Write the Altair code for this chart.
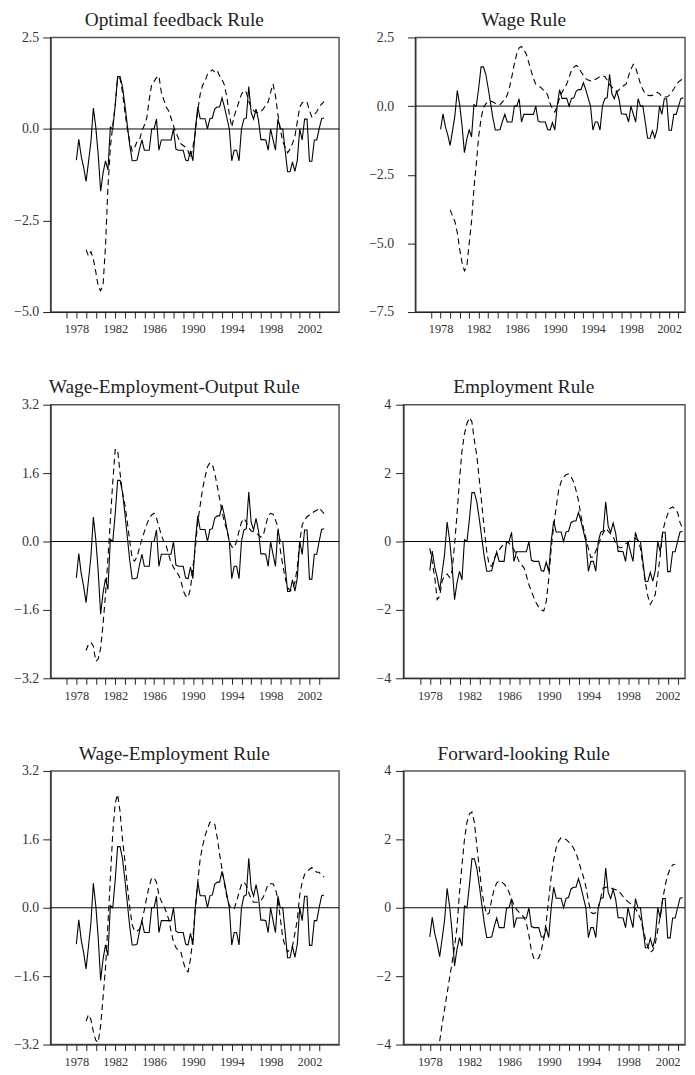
import altair as alt
import pandas as pd

# quarterly observations, 1978Q1 .. 2003Q3
quarters = [1978 + i / 4 for i in range(103)]

actual = [
    -0.85, -0.28, -0.75, -1.05, -1.43, -0.9, -0.35, 0.57, 0.05, -0.7,
    -1.7, -1.2, -0.87, -1.12, 0.05, 0.0, 0.65, 1.43, 1.43, 1.15,
    0.65, 0.1, -0.45, -0.87, -0.87, -0.85, -0.55, -0.3, -0.58, -0.58,
    -0.58, 0.0, 0.0, 0.27, -0.58, -0.3, -0.3, -0.3, -0.3, -0.3,
    0.0, -0.55, -0.58, -0.58, -0.58, -0.85, -0.87, -0.6, -0.87, 0.0,
    0.6, 0.28, 0.28, 0.28, 0.0, 0.28, 0.3, 0.55, 0.6, 0.6,
    0.85, 0.6, 0.3, 0.0, -0.87, -0.58, -0.58, -0.87, 0.0, 0.27,
    0.3, 1.16, 0.45, 0.27, 0.54, 0.25, -0.29, -0.29, -0.3, -0.58,
    0.0, -0.3, -0.58, 0.27, 0.0, 0.0, -0.58, -1.17, -1.17, -0.9,
    -1.16, -0.85, 0.0, -0.3, 0.27, 0.27, -0.88, -0.88, -0.3, -0.3,
    0.0, 0.28, 0.3,
]

optimal_rule = [None] * 4 + [
    -3.3, -3.47, -3.35, -3.55, -3.9, -4.3, -4.42, -4.25, -3.2, -1.6,
    -0.5, 0.1, 0.65, 1.4, 1.38, 1.0, 0.45, 0.0, -0.35, -0.6,
    -0.5, -0.35, -0.3, -0.05, 0.1, 0.3, 0.8, 1.2, 1.3, 1.4,
    1.45, 1.0, 0.8, 0.6, 0.5, 0.3, 0.08, -0.1, -0.25, -0.4,
    -0.45, -0.5, -0.6, -0.8, -0.5, -0.1, 0.5, 0.95, 1.2, 1.3,
    1.5, 1.55, 1.62, 1.55, 1.6, 1.45, 1.35, 1.2, 0.85, 0.4,
    0.05, 0.35, 0.55, 0.75, 0.95, 1.05, 1.0, 0.75, 0.6, 0.5,
    0.45, 0.45, 0.47, 0.55, 0.65, 0.74, 1.0, 1.23, 0.91, 0.4,
    0.0, -0.35, -0.5, -0.65, -0.55, -0.4, -0.2, 0.2, 0.6, 0.72,
    0.74, 0.74, 0.5, 0.33, 0.4, 0.47, 0.6, 0.68, 0.75,
]

wage_rule = [None] * 4 + [
    -3.78, -4.0, -4.2, -4.6, -5.2, -5.7, -6.0, -5.85, -5.0, -4.2,
    -3.0, -2.1, -1.1, -0.45, -0.05, 0.08, 0.17, 0.18, 0.15, 0.1,
    0.05, 0.05, 0.15, 0.25, 0.4, 0.7, 1.1, 1.55, 1.9, 2.12,
    2.17, 2.05, 1.9, 1.6, 1.3, 1.0, 0.8, 0.72, 0.69, 0.6,
    0.55, 0.4, 0.1, -0.1, -0.22, 0.0, 0.3, 0.5, 0.65, 0.8,
    1.05, 1.3, 1.42, 1.48, 1.42, 1.25, 1.12, 1.0, 0.95, 0.92,
    0.92, 0.97, 1.02, 1.08, 1.1, 1.08, 0.95, 0.78, 0.69, 0.6,
    0.51, 0.6, 0.69, 0.75, 0.81, 1.1, 1.35, 1.52, 1.4, 1.1,
    0.81, 0.6, 0.45, 0.4, 0.38, 0.39, 0.45, 0.5, 0.45, 0.35,
    0.33, 0.33, 0.38, 0.5, 0.62, 0.78, 0.88, 0.95, 1.0,
]

weo_rule = [None] * 4 + [
    -2.55, -2.4, -2.36, -2.45, -2.8, -2.75, -2.5, -1.93, -1.25, -0.4,
    0.5, 1.4, 2.15, 2.15, 1.6, 1.15, 0.85, 0.45, 0.0, -0.4,
    -0.46, -0.35, -0.15, 0.05, 0.23, 0.4, 0.54, 0.62, 0.66, 0.55,
    0.35, 0.15, 0.0, -0.1, -0.3, -0.5, -0.6, -0.7, -0.77, -0.9,
    -1.15, -1.27, -1.31, -1.1, -0.6, -0.15, 0.45, 0.85, 1.24, 1.5,
    1.75, 1.84, 1.8, 1.6, 1.3, 1.0, 0.7, 0.45, 0.27, 0.0,
    -0.12, -0.15, 0.0, 0.25, 0.45, 0.54, 0.45, 0.32, 0.25, 0.22,
    0.2, 0.15, 0.1, 0.15, 0.38, 0.6, 0.66, 0.64, 0.5, 0.35,
    -0.2, -0.55, -0.85, -1.08, -1.15, -1.12, -0.95, -0.6, 0.0, 0.39,
    0.5, 0.58, 0.62, 0.66, 0.7, 0.73, 0.79, 0.72, 0.65,
]

employment_rule = [
    -0.2, -0.6, -1.05, -1.7, -1.6, -1.15, -1.0, -0.95, -1.05, -0.85,
    -0.1, 0.8, 1.8, 2.65, 3.15, 3.45, 3.62, 3.5, 2.95, 2.5,
    1.8, 1.1, 0.35, -0.3, -0.7, -0.72, -0.5, -0.35, -0.25, -0.15,
    -0.05, 0.0, -0.05, -0.15, -0.24, -0.4, -0.58, -0.68, -0.77, -1.0,
    -1.26, -1.45, -1.64, -1.8, -1.93, -2.0, -2.03, -1.75, -1.1, -0.2,
    0.45, 1.0, 1.5, 1.75, 1.88, 1.95, 1.98, 1.9, 1.75, 1.5,
    1.2, 0.75, 0.4, 0.1, -0.2, -0.47, -0.45, -0.28, -0.1, 0.1,
    0.25, 0.39, 0.3, 0.22, 0.15, -0.05, -0.15, -0.19, -0.15, -0.07,
    -0.03, 0.03, 0.06, 0.09, 0.05, -0.19, -0.7, -1.2, -1.6, -1.84,
    -1.7, -1.55, -1.0, -0.4, 0.3, 0.58, 0.8, 0.97, 1.01, 0.95,
    0.85, 0.55, 0.38,
]

we_rule = [None] * 4 + [
    -2.65, -2.5, -2.62, -2.9, -3.1, -3.15, -2.75, -2.1, -1.4, -0.4,
    0.7, 1.75, 2.45, 2.65, 2.25, 1.6, 1.1, 0.5, 0.0, -0.4,
    -0.55, -0.55, -0.5, -0.3, -0.05, 0.25, 0.5, 0.7, 0.7, 0.6,
    0.3, 0.15, 0.05, -0.1, -0.26, -0.55, -0.8, -0.93, -1.0, -1.03,
    -1.25, -1.45, -1.5, -1.2, -0.7, 0.0, 0.6, 1.15, 1.45, 1.68,
    1.85, 2.0, 2.0, 1.95, 1.65, 1.25, 0.9, 0.55, 0.25, 0.05,
    -0.02, -0.02, 0.15, 0.36, 0.55, 0.6, 0.52, 0.35, 0.21, 0.13,
    0.13, 0.13, 0.17, 0.25, 0.4, 0.56, 0.56, 0.56, 0.45, 0.2,
    -0.25, -0.7, -0.9, -1.03, -0.98, -0.9, -0.6, -0.28, 0.3, 0.6,
    0.78, 0.85, 0.9, 0.94, 0.88, 0.83, 0.83, 0.76, 0.72,
]

forward_rule = [None] * 4 + [
    -3.9, -3.4, -2.95, -2.5, -2.05, -1.6, -1.15, -0.55, 0.45, 1.25,
    2.0, 2.5, 2.75, 2.8, 2.5, 1.8, 1.15, 0.5, 0.07, -0.2,
    -0.15, 0.25, 0.55, 0.72, 0.79, 0.75, 0.7, 0.6, 0.45, 0.25,
    0.07, -0.05, -0.13, -0.2, -0.28, -0.45, -0.8, -1.25, -1.48, -1.53,
    -1.47, -1.25, -0.9, -0.4, 0.25, 0.9, 1.4, 1.75, 1.95, 2.05,
    2.02, 2.0, 1.93, 1.85, 1.75, 1.6, 1.38, 1.13, 0.9, 0.62,
    0.2, -0.13, -0.17, -0.15, 0.0, 0.3, 0.58, 0.6, 0.6, 0.58,
    0.55, 0.53, 0.5, 0.42, 0.33, 0.25, 0.17, 0.12, 0.05, -0.03,
    -0.15, -0.32, -0.6, -0.9, -1.15, -1.3, -1.25, -1.05, -0.65, -0.25,
    0.25, 0.65, 0.95, 1.15, 1.25, 1.27,
] + [None] * 3

titles = [
    "Optimal feedback Rule", "Wage Rule",
    "Wage-Employment-Output Rule", "Employment Rule",
    "Wage-Employment Rule", "Forward-looking Rule",
]
x_ticks = [1977 + 0.5 * k for k in range(54)]
y_ticks_a = [-5.0, -2.5, 0.0, 2.5]
y_ticks_b = [-7.5, -5.0, -2.5, 0.0, 2.5]
y_ticks_c = [-3.2, -1.6, 0.0, 1.6, 3.2]
y_ticks_d = [-4, -2, 0, 2, 4]

FONT = "Liberation Serif"


def panel(title, rule, yticks, yfmt, width, height, xdom, yext, lpad):
    df = pd.DataFrame({"t": quarters, "actual": actual, "rule": rule})
    xenc = alt.X(
        "t:Q",
        scale=alt.Scale(domain=xdom, nice=False, zero=False),
        axis=alt.Axis(
            values=x_ticks, format="d",
            labelExpr="datum.value % 4 === 2 ? datum.label : ''",
            tickSize={"condition": {"test": "datum.value % 1 === 0", "value": 6}, "value": 4},
            labelFont=FONT, labelFontSize=12.5, labelColor="#333",
            labelPadding=5, labelOverlap=False, labelFlush=False,
            domainColor="#222", tickColor="#222", grid=False,
            minExtent=25, maxExtent=25,
        ),
        title=None,
    )
    yscale = alt.Scale(domain=[yticks[0], yticks[-1]], nice=False, zero=False)
    yaxis = alt.Axis(
        values=yticks, format=yfmt, labelFont=FONT, labelFontSize=14,
        labelColor="#333", tickSize=8, labelPadding=lpad, labelFlush=False,
        labelOverlap=False, domainColor="#222", tickColor="#222", grid=False,
        minExtent=yext, maxExtent=yext,
    )
    base = alt.Chart(df)
    zero = alt.Chart(pd.DataFrame({"z": [0]})).mark_rule(
        color="black", strokeWidth=1
    ).encode(y=alt.Y("z:Q", scale=yscale, axis=yaxis, title=None))
    solid = base.mark_line(color="black", strokeWidth=1.1, clip=True).encode(
        x=xenc, y=alt.Y("actual:Q", scale=yscale, axis=yaxis, title=None)
    )
    dashed = base.transform_filter("isValid(datum.rule)").mark_line(
        color="black", strokeWidth=1.1, strokeDash=[6, 4], clip=True
    ).encode(x=xenc, y=alt.Y("rule:Q", scale=yscale, axis=yaxis, title=None))
    return alt.layer(zero, solid, dashed).properties(
        width=width, height=height,
        title=alt.TitleParams(
            title, font=FONT, fontSize=19.5, fontWeight="normal",
            color="#222", anchor="middle", frame="bounds", offset=0,
        ),
    )


LEFT_DOM = [1975.35, 2005.05]
p1 = panel(titles[0], optimal_rule, y_ticks_a, ".1f", 291, 277, LEFT_DOM, 42, 4)
p2 = panel(titles[1], wage_rule, y_ticks_b, ".1f", 272, 277, [1975.35, 2003.68], 54, 14)
p3 = panel(titles[2], weo_rule, y_ticks_c, ".1f", 291, 276, LEFT_DOM, 42, 4)
p4 = panel(titles[3], employment_rule, y_ticks_d, "d", 284, 276, [1975.35, 2003.75], 42, 5)
p5 = panel(titles[4], we_rule, y_ticks_c, ".1f", 291, 276, LEFT_DOM, 42, 4)
p6 = panel(titles[5], forward_rule, y_ticks_d, "d", 284, 276, [1975.35, 2003.75], 42, 5)

chart = alt.vconcat(
    alt.hconcat(p1, p2, spacing=20),
    alt.hconcat(p3, p4, spacing=20),
    alt.hconcat(p5, p6, spacing=20),
    spacing=38.5,
).properties(
    padding={"left": 0, "top": -4, "right": 0, "bottom": 0},
    background="white",
).configure_view(stroke="#555", strokeWidth=1.5)

chart.save("out.html", embed_options={"renderer": "svg", "actions": False})
